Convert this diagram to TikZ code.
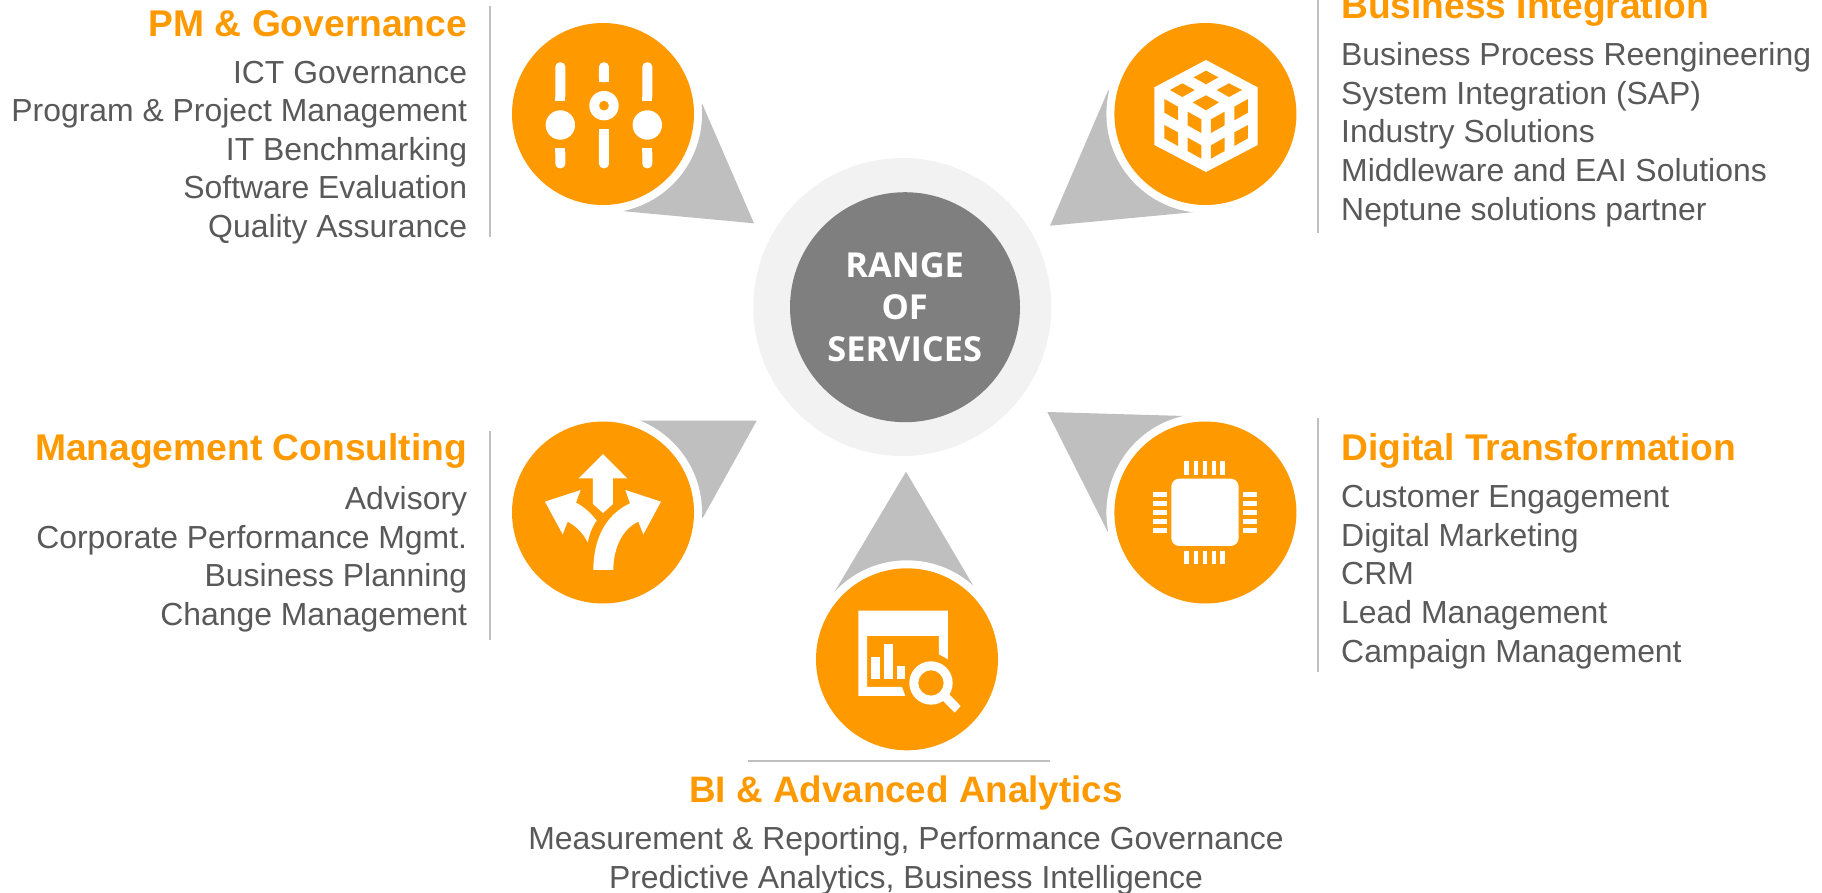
\documentclass[tikz,border=0pt]{standalone}
\usepackage{fontspec}
\setmainfont{Liberation Sans}
\newfontfamily\centerfont{Open Sans}
\definecolor{orng}{HTML}{FF9900}
\definecolor{wedge}{HTML}{BFBFBF}
\definecolor{bodytxt}{HTML}{595959}
\definecolor{rulec}{HTML}{BFBFBF}
\definecolor{ringc}{HTML}{F2F2F2}
\definecolor{corec}{HTML}{7F7F7F}
\tikzset{
  disc/.style={circle,fill=orng,minimum size=182pt,inner sep=0pt},
  halo/.style={circle,fill=white,minimum size=198pt,inner sep=0pt},
  wedgeshape/.style={fill=wedge},
  sep/.style={draw=rulec,line width=1.6pt},
  head/.style={inner sep=0pt,text=orng,font=\fontsize{37.2}{42}\selectfont\bfseries},
  bodyr/.style={inner sep=0pt,text=bodytxt,align=right,anchor=base east,font=\fontsize{31.9}{38.35}\selectfont},
  bodyl/.style={inner sep=0pt,text=bodytxt,align=left,anchor=base west,font=\fontsize{31.9}{38.6}\selectfont},
  bodyc/.style={inner sep=0pt,text=bodytxt,align=center,anchor=base,font=\fontsize{31.9}{38.8}\selectfont},
  icon/.style={x=0.3333pt,y=-0.3333pt},
  iconfill/.style={fill=white},
}
\begin{document}
\begin{tikzpicture}[x=1pt,y=-1pt]
\useasboundingbox (0,0) rectangle (1822,892);
% centre
\node[circle,fill=ringc,minimum size=298pt,inner sep=0pt] (ring) at (902.3,307) {};
\node[circle,fill=corec,minimum size=230pt,inner sep=0pt] (core) at (905,307.2) {};
\node[inner sep=0pt,text=white,align=center,anchor=base,font=\fontsize{34.4}{41.7}\selectfont\centerfont\bfseries] (corelabel) at (904.7,361) {RANGE\\OF\\SERVICES};
% wedges
\coordinate (tipPM) at (754,223.3);
\coordinate (tipBI) at (1050,225.7);
\coordinate (tipMC) at (756.7,420.7);
\coordinate (tipDT) at (1047.3,412);
\coordinate (tipBA) at (906,471.7);
\fill[wedgeshape] (tipPM) -- (702.3,104) -- (621.7,211) -- cycle;
\fill[wedgeshape] (tipBI) -- (1108.3,90) -- (1195,212) -- cycle;
\fill[wedgeshape] (tipMC) -- (638,420.7) -- (702.7,518) -- cycle;
\fill[wedgeshape] (tipDT) -- (1185,416) -- (1107.7,531.7) -- cycle;
\fill[wedgeshape] (tipBA) -- (835,591) -- (973.3,585.7) -- cycle;
% halos and discs
\node[halo] at (603,114) {};
\node[halo] at (1205.4,114) {};
\node[halo] at (603,512.5) {};
\node[halo] at (1205.4,512.5) {};
\node[halo] at (907,659.3) {};
\node[disc] (pm) at (603,114) {};
\node[disc] (bi) at (1205.4,114) {};
\node[disc] (mc) at (603,512.5) {};
\node[disc] (dt) at (1205.4,512.5) {};
\node[disc] (ba) at (907,659.3) {};
% icon PM: sliders
\begin{scope}[shift={(480,0)},icon]
  \fill[iconfill,rounded corners=4.5pt] (226,303) -- (226,187) -- (256,187) -- (256,303) -- cycle;
  \fill[iconfill,rounded corners=4.5pt] (226,445) -- (226,505) -- (256,505) -- (256,445) -- cycle;
  \fill[iconfill] (226,290) rectangle (256,303);
  \fill[iconfill] (226,445) rectangle (256,460);
  \fill[iconfill] (241,375) circle[radius=14.7pt];
  \fill[iconfill,rounded corners=4.5pt] (357,247) -- (357,187) -- (387,187) -- (387,247) -- cycle;
  \fill[iconfill] (357,232) rectangle (387,247);
  \fill[iconfill,rounded corners=4.5pt] (357,388) -- (357,505) -- (387,505) -- (387,388) -- cycle;
  \fill[iconfill] (357,388) rectangle (387,403);
  \fill[iconfill,even odd rule] (372,317) circle[radius=14.7pt] (372,317) circle[radius=5pt];
  \fill[iconfill,rounded corners=4.5pt] (487,303) -- (487,187) -- (517,187) -- (517,303) -- cycle;
  \fill[iconfill,rounded corners=4.5pt] (487,445) -- (487,505) -- (517,505) -- (517,445) -- cycle;
  \fill[iconfill] (487,290) rectangle (517,303);
  \fill[iconfill] (487,445) rectangle (517,460);
  \fill[iconfill] (502,375) circle[radius=14.7pt];
\end{scope}
% icon BI: cube
\begin{scope}[shift={(1030,0)},icon]
  \fill[iconfill] (528,180) -- (683,262) -- (683,435) -- (528,516) -- (373,435) -- (373,262) -- cycle;
  \fill[orng] (528,212) -- (565,232) -- (528,253) -- (491,232) -- cycle
    (457,250) -- (494,270) -- (457,291) -- (420,270) -- cycle
    (597,250) -- (636,270) -- (597,291) -- (560,270) -- cycle
    (528,286) -- (567,307) -- (528,331) -- (488,307) -- cycle
    (403,297) -- (444,320) -- (444,361) -- (403,338) -- cycle
    (403,375) -- (444,397) -- (444,438) -- (403,415) -- cycle
    (473,335) -- (514,358) -- (514,399) -- (473,376) -- cycle
    (473,413) -- (514,436) -- (514,476) -- (473,453) -- cycle
    (543,358) -- (584,335) -- (584,376) -- (543,399) -- cycle
    (543,436) -- (584,413) -- (584,453) -- (543,476) -- cycle
    (613,320) -- (654,297) -- (654,338) -- (613,361) -- cycle
    (613,397) -- (654,375) -- (654,415) -- (613,438) -- cycle;
\end{scope}
% icon MC: arrows
\begin{scope}[shift={(490,400)},icon]
  \fill[iconfill] (339,162) -- (412,235) -- (369,235) -- (369,312) -- (339,339) -- (309,312) -- (309,235) -- (266,235) -- cycle;
  \fill[iconfill] (165,305) -- (272,270) -- (258,308) .. controls (285,322) and (305,342) .. (320,362)
    .. controls (305,382) and (298,405) .. (293,427) .. controls (280,400) and (258,378) .. (233,365)
    -- (218,403) -- cycle;
  \fill[iconfill] (513,305) -- (406,270) -- (420,310) .. controls (345,345) and (310,420) .. (310,510)
    -- (370,510) .. controls (370,440) and (400,385) .. (445,365) -- (460,403) -- cycle;
\end{scope}
% icon DT: chip
\begin{scope}[shift={(1030,400)},icon]
  \fill[iconfill,rounded corners=8pt] (424,236) rectangle (626,438);
  \foreach \p in {470,498,525,552,578}{
    \fill[iconfill] (\p-7,183) rectangle (\p+7,224);
    \fill[iconfill] (\p-7,452) rectangle (\p+7,493);
  }
  \foreach \p in {284,311,338,365,391}{
    \fill[iconfill] (370,\p-7) rectangle (412,\p+7);
    \fill[iconfill] (639,\p-7) rectangle (680,\p+7);
  }
\end{scope}
% icon BA: report
\begin{scope}[shift={(790,460)},icon]
  \fill[iconfill] (205,452) -- (474,452) -- (474,598) -- (447,583) -- (447,528) -- (231,528) -- (231,681) -- (336,681) -- (346,708) -- (205,708) -- cycle;
  \fill[iconfill] (244,592) rectangle (270,657);
  \fill[iconfill] (282,553) rectangle (308,657);
  \fill[iconfill] (320,618) rectangle (346,657);
  \fill[iconfill,even odd rule] (423,669) circle[radius=21.7pt] (423,669) circle[radius=12.7pt];
  \fill[iconfill] (478,703) -- (512,738) -- (494,758) -- (458,722) -- cycle;
\end{scope}
% separators
\coordinate (s1a) at (490,6); \coordinate (s1b) at (490,237);
\coordinate (s2a) at (490,431); \coordinate (s2b) at (490,640);
\coordinate (s3a) at (1318,0); \coordinate (s3b) at (1318,233);
\coordinate (s4a) at (1318,418); \coordinate (s4b) at (1318,672);
\coordinate (s5a) at (748,761); \coordinate (s5b) at (1050,761);
\draw[sep] (s1a) -- (s1b);
\draw[sep] (s2a) -- (s2b);
\draw[sep] (s3a) -- (s3b);
\draw[sep] (s4a) -- (s4b);
\draw[sep] (s5a) -- (s5b);
% text
\node[head,anchor=base east] (hpm) at (467.3,36) {PM \& Governance};
\node[bodyr] (tpm) at (467.3,237) {ICT Governance\\Program \& Project Management\\IT Benchmarking\\Software Evaluation\\Quality Assurance};
\node[head,anchor=base east] (hmc) at (467.3,460) {Management Consulting};
\node[bodyr] (tmc) at (467.3,625) {Advisory\\Corporate Performance Mgmt.\\Business Planning\\Change Management};
\node[head,anchor=base west] (hbi) at (1341,18) {Business Integration};
\node[bodyl] (tbi) at (1341,220) {Business Process Reengineering\\System Integration (SAP)\\Industry Solutions\\Middleware and EAI Solutions\\Neptune solutions partner};
\node[head,anchor=base west] (hdt) at (1341,460) {Digital Transformation};
\node[bodyl] (tdt) at (1341,662) {Customer Engagement\\Digital Marketing\\CRM\\Lead Management\\Campaign Management};
\node[head,anchor=base,font=\fontsize{36.8}{42}\selectfont\bfseries] (hba) at (906,802) {BI \& Advanced Analytics};
\node[bodyc] (tba) at (906,888) {Measurement \& Reporting, Performance Governance\\Predictive Analytics, Business Intelligence};
\end{tikzpicture}
\end{document}
